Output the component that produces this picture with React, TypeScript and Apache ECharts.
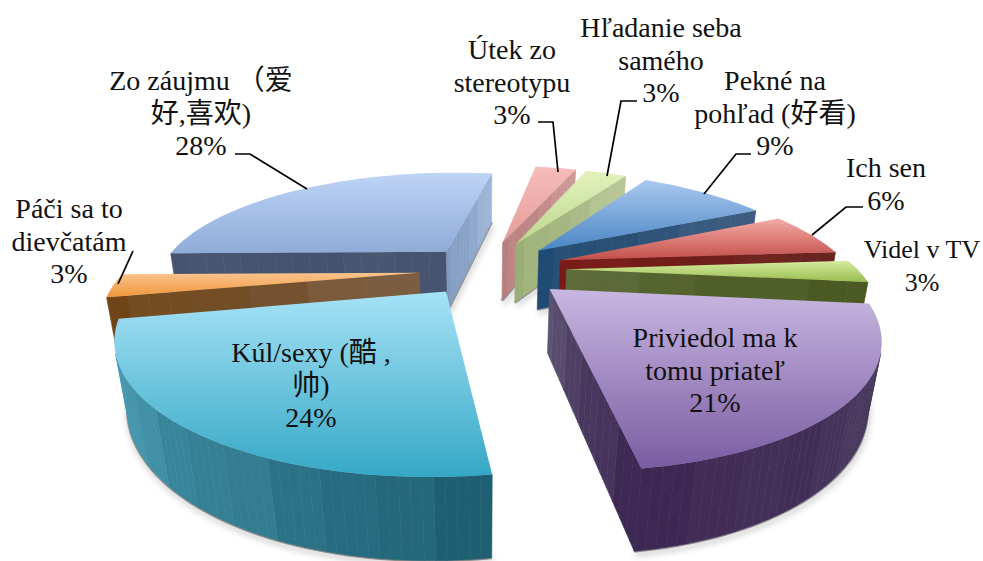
import React, { useEffect, useRef } from "react";
import * as echarts from "echarts";

// Clockwise from the slice that follows "Zo záujmu"
const categories = [
  "Útek zo\nstereotypu",
  "Hľadanie seba\nsamého",
  "Pekné na\npohľad (好看)",
  "Ich sen",
  "Videl v TV",
  "Priviedol ma k\ntomu priateľ",
  "Kúl/sexy (酷 ,\n帅)",
  "Páči sa to\ndievčatám",
  "Zo záujmu （爱\n好,喜欢)",
];
const values = [3, 3, 9, 6, 3, 21, 24, 3, 28];
const explode = [0.27, 0.27, 0.27, 0.28, 0.285, 0.28, 0.22, 0.216, 0.22];
const radii = [1, 1, 1, 0.99, 0.99, 0.997, 1, 1, 0.98];
const nudgeX = [0, 0, 0, 0, 0, 0.015, 0.008, 0, 0.012];
const nudgeY = [0, 0, 0, -0.015, -0.012, -0.035, 0, 0, 0];
const paintOrder = [0, 1, 8, 2, 3, 4, 7, 5, 6];
const firstAngle = 10;

type Wall = [string, string];
const topColors: Wall[] = [
  ["#F5BDBB", "#E59C99"],
  ["#E3F2BC", "#BDD68E"],
  ["#AAC8F0", "#4A86C4"],
  ["#F5ABA7", "#C24E48"],
  ["#D6EC9F", "#98BC50"],
  ["#C8B7E1", "#7A5CA2"],
  ["#A6E2F6", "#35A8C6"],
  ["#FAC48E", "#F0963A"],
  ["#BED4F7", "#8FABD8"],
];
const endRayWalls: Wall[] = [
  ["#CC9896", "#B67E7D"],
  ["#B8C596", "#9AAE76"],
  ["#3E5C80", "#1F4A72"],
  ["#6A2420", "#7A1A14"],
  ["#4A5A22", "#5E6B3A"],
  ["#3D2953", "#5C5272"],
  ["#1F5F72", "#1F5F72"],
  ["#7A5E42", "#7A5E42"],
  ["#9DB4D6", "#7F99BF"],
];
const startRayWalls: Wall[] = [
  ["#BB8180", "#BB8180"],
  ["#9CB07A", "#9CB07A"],
  ["#1F4A72", "#1F4A72"],
  ["#7A1A14", "#7A1A14"],
  ["#5E6B3A", "#5E6B3A"],
  ["#5C5272", "#5C5272"],
  ["#1F5F72", "#1F5F72"],
  ["#7B5E42", "#6F4416"],
  ["#475470", "#475470"],
];
const outerWalls: Wall[] = [
  ["#BB8180", "#BB8180"],
  ["#9CB07A", "#9CB07A"],
  ["#2D5680", "#2D5680"],
  ["#7A1A14", "#7A1A14"],
  ["#4A5A22", "#4A5A22"],
  ["#4B3E60", "#3F2A55"],
  ["#1F5F72", "#4FA8C0"],
  ["#6F4416", "#6F4416"],
  ["#475470", "#475470"],
];

type LabelPlace = { x: number; y: number; size: number };
const labelPlaces: LabelPlace[] = [
  { x: 512, y: 82, size: 28 },
  { x: 661, y: 60, size: 28 },
  { x: 775, y: 113, size: 28 },
  { x: 886, y: 184, size: 28 },
  { x: 922, y: 266, size: 26 },
  { x: 715, y: 370, size: 28 },
  { x: 311, y: 385, size: 28 },
  { x: 69, y: 241, size: 28 },
  { x: 201, y: 113, size: 28 },
];
const leaderLines: number[][][] = [
  [[538, 122], [553, 122], [558, 172]],
  [[637, 101], [621, 101], [607, 176]],
  [[751, 154], [736, 154], [704, 194]],
  [[863, 207], [846, 207], [812, 235]],
  [[235, 154], [250, 154], [307, 189]],
  [[133, 251], [118, 284]],
];

// Perspective of the pie's top plane (one radius = 1 world unit)
const VX = 483;
const HORIZON = -112;
const C0 = 0.002618;
const M = 0.00078;
const WIDTH = 0.77;
// Vertical lines converge on this nadir
const NADIR_Y = 2292;
const THICK = 8.2e-5;

const rad = (d: number) => (d * Math.PI) / 180;

function project(X: number, Y: number, bottom: boolean): number[] {
  const w = C0 - M * Y;
  const u = 1 / w;
  const x = VX + WIDTH * X * u;
  const y = HORIZON + u;
  if (!bottom) return [x, y];
  const t = THICK / (w + THICK);
  return [x + t * (VX - x), y + t * (NADIR_Y - y)];
}

function hexToRgb(h: string): number[] {
  return [1, 3, 5].map((i) => parseInt(h.slice(i, i + 2), 16));
}
function band(a: string, b: string, t: number, i: number): string {
  const A = hexToRgb(a);
  const B = hexToRgb(b);
  const wobble = Math.sin(i * 1.9) * 2.5;
  const c = A.map((v, k) => Math.max(0, Math.min(255, Math.round(v + (B[k] - v) * t + wobble))));
  return `rgb(${c[0]},${c[1]},${c[2]})`;
}

function area(p: number[][]): number {
  let s = 0;
  for (let i = 0; i < p.length; i++) {
    const q = p[(i + 1) % p.length];
    s += p[i][0] * q[1] - q[0] * p[i][1];
  }
  return s;
}

const total = values.reduce((a, b) => a + b, 0);
const startAngles: number[] = [];
values.reduce((acc, v, i) => {
  startAngles[i] = acc;
  return acc + (v / total) * 360;
}, firstAngle);

function buildSlice(index: number, value: number) {
  const a0 = startAngles[index];
  const a1 = a0 + (value / total) * 360;
  const mid = rad((a0 + a1) / 2);
  const e = explode[index];
  const r = radii[index];
  const ax = e * Math.sin(mid) + nudgeX[index];
  const ay = -e * Math.cos(mid) + nudgeY[index];
  const rim: number[][] = [];
  const steps = Math.max(6, Math.round((a1 - a0) / 1.5));
  for (let i = 0; i <= steps; i++) {
    const t = rad(a0 + ((a1 - a0) * i) / steps);
    rim.push([ax + r * Math.sin(t), ay - r * Math.cos(t)]);
  }
  const apex = [ax, ay];
  const children: any[] = [];

  const strips = (path: number[][], colors: Wall, bandEvery: number) => {
    const out: any[] = [];
    const last = path.length - 1;
    const bands = Math.max(1, Math.ceil(last / bandEvery) - 1);
    for (let i = 0; i < last; i++) {
      const pts = [
        project(path[i][0], path[i][1], false),
        project(path[i + 1][0], path[i + 1][1], false),
        project(path[i + 1][0], path[i + 1][1], true),
        project(path[i][0], path[i][1], true),
      ];
      if (area(pts) >= 0) continue;
      const b = Math.floor(i / bandEvery);
      const col = band(colors[0], colors[1], b / bands, b);
      out.push({
        type: "polygon",
        shape: { points: pts },
        style: { fill: col, stroke: col, lineWidth: 0.6 },
      });
    }
    return out;
  };
  const rayPath = (from: number[], to: number[]) => {
    const n = 16;
    const p: number[][] = [];
    for (let i = 0; i <= n; i++) {
      p.push([from[0] + ((to[0] - from[0]) * i) / n, from[1] + ((to[1] - from[1]) * i) / n]);
    }
    return p;
  };

  const startWall = strips(rayPath(apex, rim[0]), startRayWalls[index], 3);
  const endWall = strips(rayPath(rim[rim.length - 1], apex), endRayWalls[index], 3);
  const outer = strips(rim, outerWalls[index], 5);

  // Soft shadow under the visible lower edges
  const shadowEdge: number[][] = [];
  if (outer.length > 4) {
    [...rim].forEach((p) => shadowEdge.push(project(p[0], p[1], true)));
  } else if (endWall.length > 4) {
    rayPath(rim[rim.length - 1], apex).forEach((p) => shadowEdge.push(project(p[0], p[1], true)));
  }
  if (shadowEdge.length) {
    children.push({
      type: "polyline",
      shape: { points: shadowEdge },
      style: {
        fill: "none",
        stroke: "rgba(70,70,70,0.55)",
        lineWidth: 3,
        shadowBlur: 6,
        shadowColor: "rgba(0,0,0,0.55)",
        shadowOffsetX: 1,
        shadowOffsetY: 3,
      },
    });
  }

  children.push(...startWall, ...endWall, ...outer);

  const topPts = [project(apex[0], apex[1], false), ...rim.map((p) => project(p[0], p[1], false))];
  children.push({
    type: "polygon",
    shape: { points: topPts },
    style: {
      fill: new echarts.graphic.LinearGradient(0, 0, 0, 1, [
        { offset: 0, color: topColors[index][0] },
        { offset: 1, color: topColors[index][1] },
      ]),
    },
  });
  return { type: "group", children };
}

const FONT = '"Liberation Serif", "Noto Sans CJK SC", serif';

export default function App() {
  const ref = useRef<HTMLDivElement>(null);
  useEffect(() => {
    if (!ref.current) return;
    const chart = echarts.init(ref.current, undefined, { renderer: "svg" });
    const labels = categories.map((c, i) => ({
      type: "text",
      x: labelPlaces[i].x,
      y: labelPlaces[i].y,
      style: {
        text: `${c}\n${values[i]}%`,
        font: `${labelPlaces[i].size}px ${FONT}`,
        fill: "#111111",
        align: "center",
        verticalAlign: "middle",
        lineHeight: 32.5,
      },
      z: 10,
    }));
    const leaders = leaderLines.map((points) => ({
      type: "polyline",
      shape: { points },
      style: { fill: "none", stroke: "#000000", lineWidth: 1.7 },
      z: 9,
    }));
    chart.setOption({
      animation: false,
      backgroundColor: "#ffffff",
      series: [
        {
          type: "custom",
          coordinateSystem: "none",
          silent: true,
          clip: false,
          data: paintOrder.map((i) => ({ name: categories[i], value: [values[i], i] })),
          renderItem: (_params: any, api: any) => buildSlice(api.value(1), api.value(0)),
          z: 1,
        },
      ],
      graphic: { elements: [...leaders, ...labels] },
    });
    return () => chart.dispose();
  }, []);
  return (
    <div
      ref={ref}
      style={{ position: "fixed", left: 0, top: 0, width: 983, height: 561, overflow: "hidden" }}
    />
  );
}
